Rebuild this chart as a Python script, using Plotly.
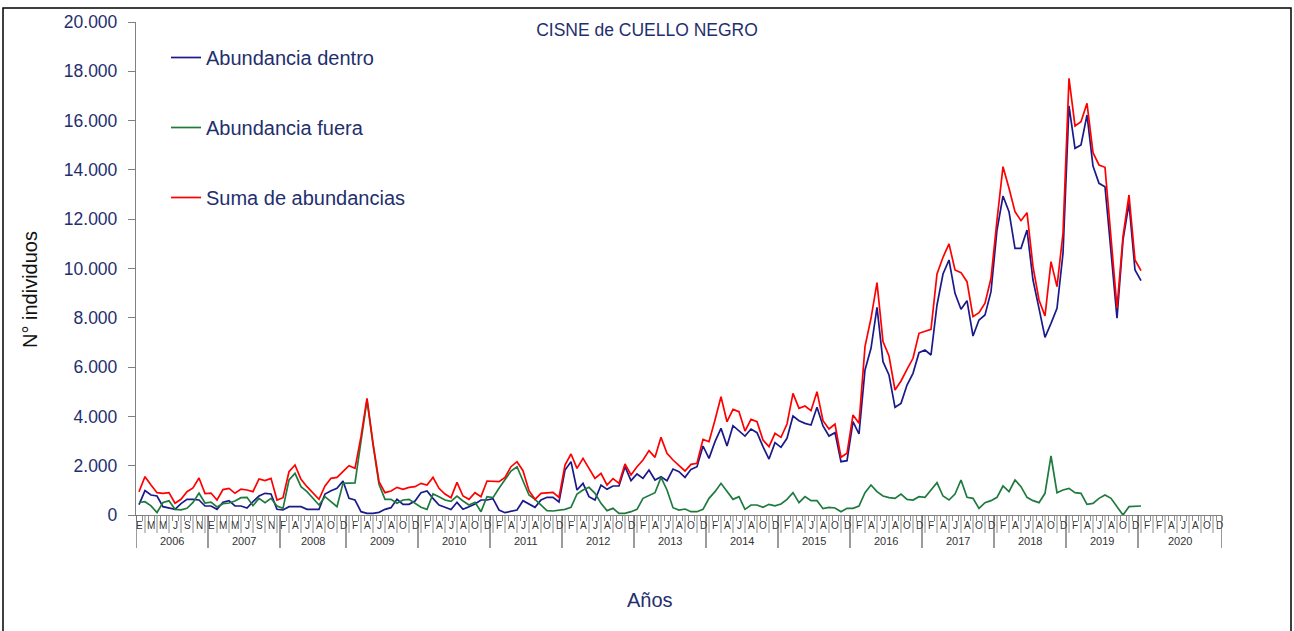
import plotly.graph_objects as go

# ---------------- data ----------------
years = ["2006", "2007", "2008", "2009", "2010", "2011", "2012", "2013",
         "2014", "2015", "2016", "2017", "2018", "2019", "2020"]
months_per_year = [12, 12, 11, 12, 12, 12, 12, 12, 12, 12, 12, 12, 12, 12, 14]
month_labels = {
    "2006": ["E", "M", "M", "J", "S", "N"],
    "2007": ["E", "M", "M", "J", "S", "N"],
    "2008": ["F", "A", "J", "A", "O", "D"],
    "2009": ["F", "A", "J", "A", "O", "D"],
    "2010": ["F", "A", "J", "A", "O", "D"],
    "2011": ["F", "A", "J", "A", "O", "D"],
    "2012": ["F", "A", "J", "A", "O", "D"],
    "2013": ["F", "A", "J", "A", "O", "D"],
    "2014": ["F", "A", "J", "A", "O", "D"],
    "2015": ["F", "A", "J", "A", "O", "D"],
    "2016": ["F", "A", "J", "A", "O", "D"],
    "2017": ["F", "A", "J", "A", "O", "D"],
    "2018": ["F", "A", "J", "A", "O", "D"],
    "2019": ["F", "A", "J", "A", "O", "D"],
    "2020": ["F", "F", "A", "J", "A", "O", "D"],
}

dentro = [420, 990, 811, 770, 338, 270, 230, 460, 635, 637, 608, 365,
          365, 230, 520, 580, 365, 365, 284, 540, 770, 880, 852, 230,
          203, 338, 338, 338, 230, 230, 230, 852, 987, 1082, 1379,
          676, 608, 135, 68, 68, 108, 230, 297, 635, 432, 432, 567,
          905, 974, 676, 405, 311, 220, 514, 230, 338, 446, 608, 608,
          662, 203, 95, 135, 203, 580, 446, 311, 608, 717, 717, 527,
          1825, 2163, 1014, 1284, 744, 608, 1217, 1041, 1176, 1176, 1960, 1392,
          1663, 1487, 1825, 1420, 1555, 1392, 1866, 1757, 1527, 1852, 1960, 2799,
          2298, 2974, 3515, 2799, 3623, 3420, 3204, 3488, 3339, 2772, 2271, 2934,
          2745, 3110, 4016, 3827, 3719, 3651, 4368, 3611, 3205, 3340, 2163, 2204,
          3787, 3286, 5883, 6762, 8426, 6221, 5680, 4368, 4530, 5274, 5748, 6586,
          6694, 6491, 8520, 9778, 10345, 8994, 8345, 8694, 7262, 7911, 8114, 9061,
          11562, 12942, 12306, 10819, 10819, 11562, 9534, 8385, 7208, 7776, 8385, 10616,
          16593, 14876, 15011, 16228, 14159, 13456, 13320, 10683, 7980, 11157, 12645, 9940,
          9506]

fuera = [507, 540, 370, 100, 508, 574, 230, 210, 270, 508, 892, 487,
         520, 324, 460, 487, 567, 703, 717, 378, 676, 500, 676, 365,
         270, 1420, 1690, 1149, 946, 676, 405, 744, 540, 338, 1284,
         1284, 1300, 3000, 4650, 2850, 1250, 635, 635, 474, 608, 635, 474,
         311, 230, 852, 744, 608, 555, 770, 568, 405, 514, 135, 744,
         703, 1082, 1420, 1785, 1960, 1420, 811, 635, 405, 176, 162, 203,
         230, 311, 852, 1014, 1122, 880, 474, 176, 270, 68, 68, 135,
         230, 676, 784, 905, 1527, 1014, 297, 203, 243, 135, 135, 230,
         676, 946, 1284, 946, 635, 744, 230, 405, 405, 311, 432, 372,
         446, 635, 906, 500, 744, 581, 581, 257, 311, 284, 135, 270,
         270, 365, 906, 1217, 946, 770, 703, 676, 852, 635, 608, 744,
         717, 1014, 1312, 770, 608, 852, 1420, 717, 676, 270, 500, 581,
         717, 1177, 947, 1420, 1150, 717, 581, 500, 879, 2394, 906, 1014,
         1082, 906, 879, 433, 473, 676, 811, 676, 338, 0, 338, 365,
         365]

suma = [945, 1554, 1217, 905, 880, 905, 475, 637, 945, 1100, 1500, 866,
        890, 608, 1030, 1081, 880, 1048, 1014, 946, 1460, 1393, 1487, 608,
        703, 1757, 2028, 1446, 1149, 905, 635, 1176, 1487, 1527, 1757,
        2000, 1893, 3177, 4734, 2921, 1352, 905, 974, 1122, 1041, 1122, 1149,
        1284, 1217, 1527, 1082, 852, 703, 1325, 770, 635, 905, 744, 1379,
        1379, 1352, 1527, 1960, 2163, 1798, 987, 635, 880, 905, 920, 717,
        2028, 2474, 1893, 2298, 1893, 1487, 1690, 1217, 1473, 1284, 2069, 1622,
        1960, 2231, 2610, 2339, 3150, 2501, 2231, 2000, 1785, 2055, 2096, 3069,
        2974, 3853, 4800, 3785, 4285, 4190, 3406, 3880, 3785, 3041, 2772, 3312,
        3150, 3692, 4936, 4327, 4422, 4232, 5003, 3827, 3489, 3692, 2340, 2502,
        4057, 3719, 6829, 7980, 9425, 7033, 6451, 5071, 5436, 5910, 6357, 7371,
        7438, 7533, 9778, 10455, 11000, 9940, 9832, 9466, 8045, 8207, 8589, 9602,
        11968, 14132, 13253, 12306, 11941, 12266, 10076, 8723, 8074, 10278, 9264, 11427,
        17716, 15782, 15957, 16702, 14700, 14200, 14105, 11360, 8400, 11292, 12982, 10345,
        9912]

# ---------------- figure ----------------
NAVY = "#1F2F6E"
FONT = "Arial, Liberation Sans, sans-serif"
W, H = 1294, 631
ML, MR, MT, MB = 136, 72, 22, 116
PW, PH = W - ML - MR, H - MT - MB

n_cat = sum(months_per_year)
x = list(range(len(dentro)))

fig = go.Figure()
series = [("Abundancia dentro", dentro, "#1A1A8A"),
          ("Abundancia fuera", fuera, "#1E7A3E"),
          ("Suma de abundancias", suma, "#FF0000")]
for i, (name, vals, col) in enumerate(series):
    fig.add_trace(go.Scatter(x=x, y=vals, mode="lines", name=name,
                             line=dict(color=col, width=1.7),
                             legendgroup=f"g{i}", hoverinfo="x+y"))

shapes = []
annotations = []
px2py = lambda p: p / PH  # pixels -> paper y fraction

# month labels (every 2 categories) and their separators
label_txt = []
for yr in years:
    label_txt.extend(month_labels[yr])
label_pos = list(range(0, n_cat, 2))[:len(label_txt)]
for p, t in zip(label_pos, label_txt):
    annotations.append(dict(x=p, y=-px2py(10), xref="x", yref="paper", text=t,
                            showarrow=False, font=dict(family=FONT, size=10, color="#333333"),
                            xanchor="center", yanchor="middle"))
    if p + 1 < n_cat:
        shapes.append(dict(type="line", xref="x", yref="paper", x0=p + 1, x1=p + 1,
                           y0=0, y1=-px2py(18), line=dict(color="#8c8c8c", width=1)))

# year separators and labels
start = 0
bounds = [-0.5]
for yr, m in zip(years, months_per_year):
    end = start + m
    bounds.append(end - 0.5)
    annotations.append(dict(x=(start + end - 1) / 2, y=-px2py(26), xref="x", yref="paper",
                            text=yr, showarrow=False,
                            font=dict(family=FONT, size=11, color="#333333"),
                            xanchor="center", yanchor="middle"))
    start = end
for b in bounds:
    shapes.append(dict(type="line", xref="x", yref="paper", x0=b, x1=b,
                       y0=0, y1=-px2py(33), line=dict(color="#666666", width=1.3)))

# outer frame
shapes.append(dict(type="rect", xref="paper", yref="paper",
                   x0=(3 - ML) / PW, x1=(1291 - ML) / PW,
                   y0=-(634 - MT - PH) / PH, y1=1 + (MT - 8) / PH,
                   line=dict(color="black", width=1.5), fillcolor="rgba(0,0,0,0)"))

# axis titles
annotations.append(dict(x=(650 - ML) / PW, y=-(600 - MT - PH) / PH, xref="paper", yref="paper",
                        text="Años", showarrow=False,
                        font=dict(family=FONT, size=20, color=NAVY),
                        xanchor="center", yanchor="middle"))
annotations.append(dict(x=(30 - ML) / PW, y=(515 - 290) / PH, xref="paper", yref="paper",
                        text="N° individuos", showarrow=False, textangle=-90,
                        font=dict(family=FONT, size=20, color="#111111"),
                        xanchor="center", yanchor="middle"))

fig.update_layout(
    width=W, height=H,
    margin=dict(l=ML, r=MR, t=MT, b=MB),
    paper_bgcolor="white", plot_bgcolor="white",
    separators=",.",
    title=dict(text="CISNE de CUELLO NEGRO", x=0.5, xref="container", xanchor="center",
               y=1 - 30 / H, yref="container", yanchor="middle",
               font=dict(family=FONT, size=17.5, color=NAVY)),
    showlegend=True,
    legend=dict(x=(166 - ML) / PW, y=1 - (38 - MT) / PH, xanchor="left", yanchor="top",
                font=dict(family=FONT, size=20, color=NAVY), bgcolor="rgba(0,0,0,0)",
                traceorder="grouped", tracegroupgap=41, itemwidth=30),
    xaxis=dict(range=[-0.5, n_cat - 0.5], showgrid=False, zeroline=False,
               showline=True, linecolor="#808080", linewidth=1.3,
               tickmode="array", tickvals=[k - 0.5 for k in range(n_cat + 1)],
               ticks="outside", ticklen=5, tickcolor="#8c8c8c", tickwidth=1,
               showticklabels=False, fixedrange=True),
    yaxis=dict(range=[0, 20000], dtick=2000, tickformat=",d", showgrid=False, zeroline=False,
               showline=True, linecolor="#808080", linewidth=1.3,
               ticks="outside", ticklen=7, tickcolor="#808080",
               tickfont=dict(family=FONT, size=17.5, color=NAVY), ticklabelstandoff=7),
    shapes=shapes, annotations=annotations,
)

fig.write_html("out.html", config={"displayModeBar": False},
               post_script="document.body.style.margin='0';document.body.style.overflow='hidden';")
